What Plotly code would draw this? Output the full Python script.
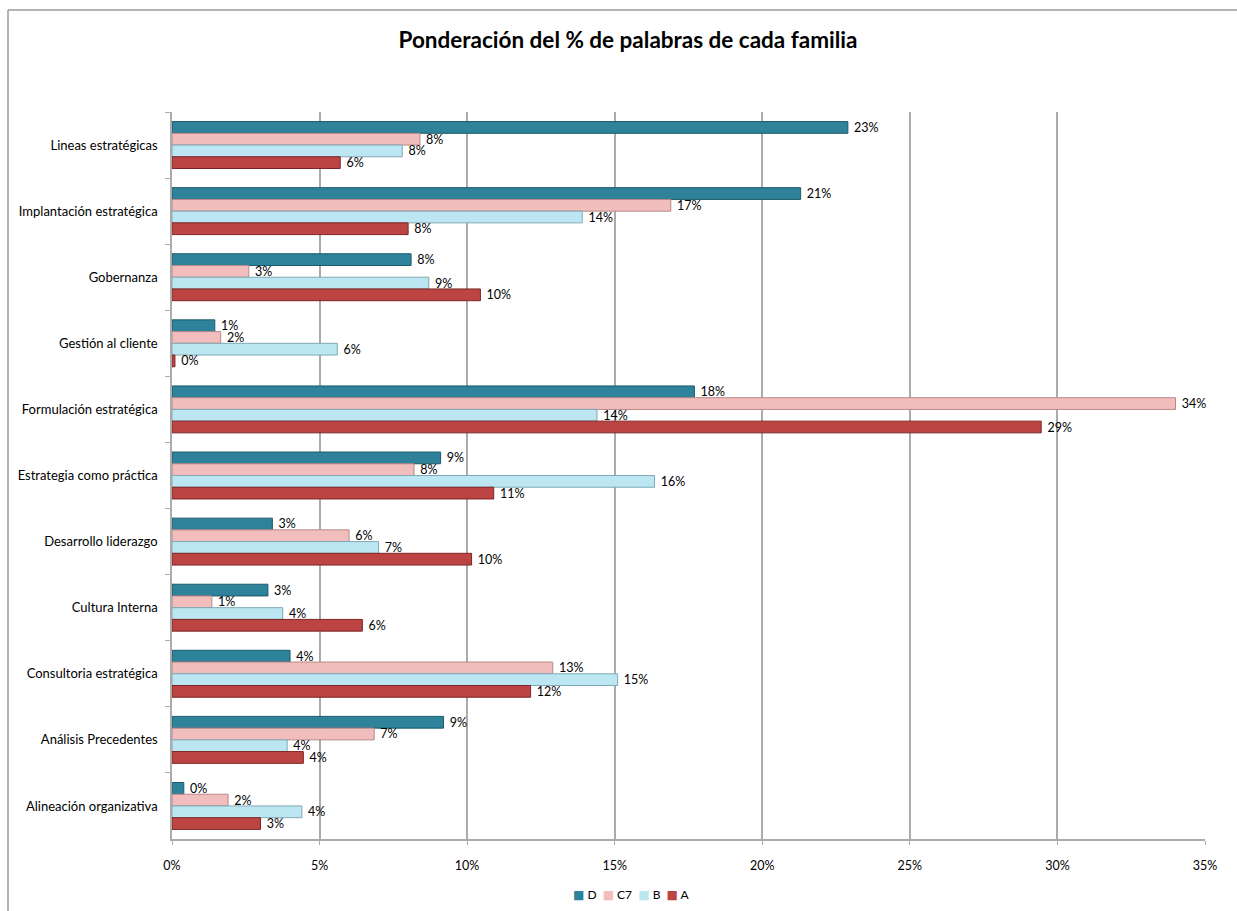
import plotly.graph_objects as go

# ---- data (percent of words per family) ----
categories = [
    "Lineas estratégicas",
    "Implantación estratégica",
    "Gobernanza",
    "Gestión al cliente",
    "Formulación estratégica",
    "Estrategia como práctica",
    "Desarrollo liderazgo",
    "Cultura Interna",
    "Consultoria estratégica",
    "Análisis Precedentes",
    "Alineación organizativa",
]
series_names = ["D", "C7", "B", "A"]
D_values = [22.9, 21.3, 8.1, 1.45, 17.7, 9.1, 3.4, 3.25, 4.0, 9.2, 0.4]
C7_values = [8.4, 16.9, 2.6, 1.65, 34.0, 8.2, 6.0, 1.35, 12.9, 6.85, 1.9]
B_values = [7.8, 13.9, 8.7, 5.6, 14.4, 16.35, 7.0, 3.75, 15.1, 3.9, 4.4]
A_values = [5.7, 8.0, 10.45, 0.1, 29.45, 10.9, 10.15, 6.45, 12.15, 4.45, 3.0]
x_ticks = [0, 5, 10, 15, 20, 25, 30, 35]
title_text = "Ponderación del % de palabras de cada familia"

colors = {"D": "#2E8299", "C7": "#F2BDBD", "B": "#BCE7F2", "A": "#BC4543"}
edges = {"D": "#1D5A6B", "C7": "#B88888", "B": "#7FA9B5", "A": "#7E2524"}
values = {"D": D_values, "C7": C7_values, "B": B_values, "A": A_values}

FONT = "Lato, 'Open Sans', 'DejaVu Sans', sans-serif"

fig = go.Figure()
for name in series_names:
    fig.add_trace(go.Bar(
        name=name,
        y=categories,
        x=values[name],
        orientation="h",
        marker=dict(color=colors[name], line=dict(color=edges[name], width=1)),
        texttemplate=" %{x:.0f}%",
        textposition="outside",
        textfont=dict(family=FONT, size=12.5, color="#000000"),
        cliponaxis=False,
        constraintext="none",
        hoverinfo="x+y+name",
        showlegend=False,
    ))

W, H = 1237, 911
L, R, T, B = 172, 32, 112, 72
pw = W - L - R
ph = H - T - B

def px_x(px):
    return (px - L) / pw

def px_y(py):
    return (H - B - py) / ph

legend_html = "&nbsp;&nbsp;".join(
    f"<span style='color:{colors[n]}'>■</span> {n}" for n in series_names
)

fig.update_layout(
    width=W,
    height=H,
    margin=dict(l=L, r=R, t=T, b=B, pad=0),
    paper_bgcolor="white",
    plot_bgcolor="white",
    barmode="group",
    bargap=0.29,
    bargroupgap=0,
    font=dict(family=FONT, size=12, color="#000000"),
    title=dict(
        text="<b>" + title_text + "</b>",
        x=px_x(628), xref="paper", xanchor="center",
        y=1 - 40 / H, yref="container", yanchor="middle",
        font=dict(family=FONT, size=22.5, color="#000000"),
    ),
    showlegend=False,
    annotations=[
        dict(text=legend_html, xref="paper", yref="paper",
             x=px_x(631), y=px_y(894), xanchor="center", yanchor="middle",
             showarrow=False, font=dict(family=FONT, size=12, color="#000000")),
    ],
    shapes=[
        dict(type="line", xref="paper", yref="paper",
             x0=px_x(8), x1=px_x(1250), y0=px_y(10), y1=px_y(10),
             line=dict(color="#9A9A9A", width=1.5)),
        dict(type="line", xref="paper", yref="paper",
             x0=px_x(8), x1=px_x(8), y0=px_y(10), y1=px_y(930),
             line=dict(color="#9A9A9A", width=1.5)),
    ],
)

fig.update_xaxes(
    range=[0, 35],
    tickvals=x_ticks,
    ticktext=[f"{v}%" for v in x_ticks],
    showgrid=True,
    gridcolor="#ABABAB",
    gridwidth=1.5,
    zeroline=False,
    showline=True,
    linecolor="#ABABAB",
    linewidth=1.5,
    ticks="outside",
    ticklen=4,
    tickcolor="#ABABAB",
    tickfont=dict(family=FONT, size=12.5, color="#000000"),
    ticklabelstandoff=10,
    fixedrange=True,
)
fig.update_yaxes(
    type="category",
    categoryorder="array",
    categoryarray=categories,
    autorange="reversed",
    showgrid=False,
    zeroline=False,
    showline=True,
    linecolor="#ABABAB",
    linewidth=1.5,
    ticks="outside",
    tickson="boundaries",
    ticklen=5,
    tickcolor="#ABABAB",
    tickfont=dict(family=FONT, size=13, color="#000000"),
    ticklabelstandoff=10,
    fixedrange=True,
)

fig.write_html("out.html")
